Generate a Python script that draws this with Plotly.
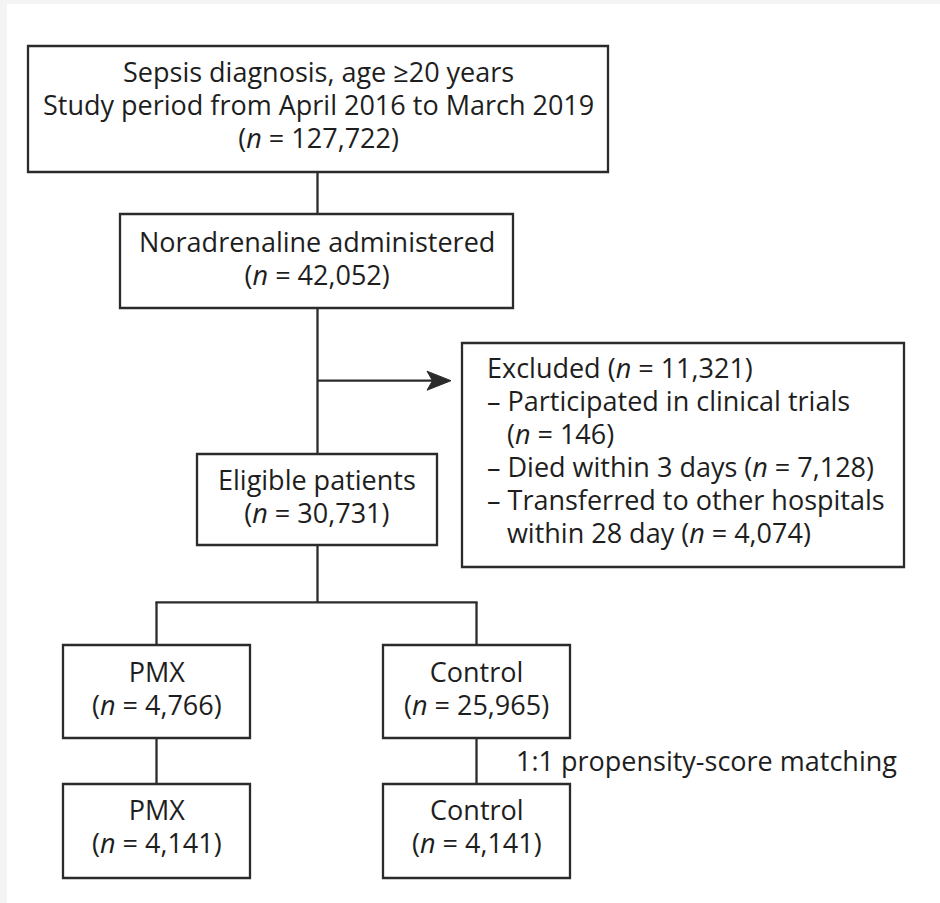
import plotly.graph_objects as go

W, H = 940, 903

# ---- data (text content) ----
box_titles = [
    "Sepsis diagnosis, age \u226520 years<br>Study period from April 2016 to March 2019",
    "Noradrenaline administered",
    "Eligible patients",
    "PMX",
    "Control",
    "PMX",
    "Control",
]
box_counts = ["127,722", "42,052", "30,731", "4,766", "25,965", "4,141", "4,141"]
excluded_total = "11,321"
excluded_reasons = ["Participated in clinical trials", "Died within 3 days", "Transferred to other hospitals"]
excluded_counts = ["146", "7,128", "4,074"]
matching_label = "1:1 propensity-score matching"

# ---- layout (positions in pixels: x0, y0, x1, y1) ----
boxes = [
    (28, 46, 608, 172),
    (120, 214, 513, 308),
    (197, 454, 437, 545),
    (63, 645, 250, 738),
    (383, 645, 570, 738),
    (63, 784, 250, 878),
    (383, 784, 570, 878),
]
text_shift = [-5, -3, -3.5, -3.5, -3.5, -5, -5]
excl_box = (462, 343, 904, 567)
line_color = "#2b2b2b"
text_color = "#1e1e1e"
FONT = "Open Sans"
GLYPH = 27          # glyph size (px)
BASE = 33.0 / 1.3   # base size controlling line spacing (33 px)

def styled(s):
    return f'<span style="font-size:{GLYPH}px">{s}</span>'

def multiline(lines):
    return "<br>".join(styled(l) for l in lines)

fig = go.Figure()
shapes = []
annotations = []

# background (white page over light-gray frame)
shapes.append(dict(type="rect", xref="x", yref="y", x0=7, y0=4, x1=W + 5, y1=H + 5,
                   fillcolor="white", line=dict(width=0), layer="below"))

for (x0, y0, x1, y1) in boxes + [excl_box]:
    shapes.append(dict(type="rect", xref="x", yref="y", x0=x0, y0=y0, x1=x1, y1=y1,
                       line=dict(color=line_color, width=2.3), fillcolor="white"))

def seg(x0, y0, x1, y1):
    shapes.append(dict(type="line", xref="x", yref="y", x0=x0, y0=y0, x1=x1, y1=y1,
                       line=dict(color=line_color, width=2.3)))

cx_main = 317.5
cx_l = (boxes[3][0] + boxes[3][2]) / 2
cx_r = (boxes[4][0] + boxes[4][2]) / 2
seg(cx_main, boxes[0][3], cx_main, boxes[1][1])
seg(cx_main, boxes[1][3], cx_main, boxes[2][1])
arrow_y = 380.7
seg(cx_main, arrow_y, 440, arrow_y)
shapes.append(dict(type="path", xref="x", yref="y",
                   path=f"M 451,{arrow_y} L 427,{arrow_y-9.5} L 432.5,{arrow_y} L 427,{arrow_y+9.5} Z",
                   fillcolor=line_color, line=dict(color=line_color, width=1)))
split_y = 602.3
seg(cx_main, boxes[2][3], cx_main, split_y)
seg(cx_l - 1.1, split_y, cx_r + 1.1, split_y)
seg(cx_l, split_y, cx_l, boxes[3][1])
seg(cx_r, split_y, cx_r, boxes[4][1])
seg(cx_l, boxes[3][3], cx_l, boxes[5][1])
seg(cx_r, boxes[4][3], cx_r, boxes[6][1])

# box texts (centered, one annotation per box)
for (x0, y0, x1, y1), title, cnt, sh in zip(boxes, box_titles, box_counts, text_shift):
    lines = title.split("<br>") + [f"(<i>n</i> = {cnt})"]
    annotations.append(dict(x=(x0 + x1) / 2, y=(y0 + y1) / 2 + sh, xref="x", yref="y",
                            text=multiline(lines), align="center",
                            showarrow=False, xanchor="center", yanchor="middle",
                            font=dict(family=FONT, size=BASE, color=text_color)))

# excluded box text (left aligned; indented continuation lines)
ind = "\u2007\u2009"  # small indent for continuation lines
ex_lines = [f"Excluded (<i>n</i> = {excluded_total})",
            f"\u2013 {excluded_reasons[0]}",
            f"{ind}(<i>n</i> = {excluded_counts[0]})",
            f"\u2013 {excluded_reasons[1]} (<i>n</i> = {excluded_counts[1]})",
            f"\u2013 {excluded_reasons[2]}",
            f"{ind}within 28 day (<i>n</i> = {excluded_counts[2]})"]
annotations.append(dict(x=485, y=368 + 2.5 * 32.8, xref="x", yref="y",
                        text=multiline(ex_lines), align="left",
                        showarrow=False, xanchor="left", yanchor="middle",
                        font=dict(family=FONT, size=BASE, color=text_color)))

annotations.append(dict(x=514, y=760, xref="x", yref="y", text=styled(matching_label),
                        showarrow=False, xanchor="left", yanchor="middle",
                        font=dict(family=FONT, size=BASE, color=text_color)))

fig.update_layout(
    width=W, height=H, margin=dict(l=0, r=0, t=0, b=0),
    paper_bgcolor="#f4f4f4", plot_bgcolor="rgba(0,0,0,0)",
    xaxis=dict(range=[0, W], visible=False, fixedrange=True),
    yaxis=dict(range=[H, 0], visible=False, fixedrange=True),
    shapes=shapes, annotations=annotations, showlegend=False,
)
fig.write_html("out.html", config={"displayModeBar": False},
               post_script="document.body.style.margin='0';document.body.style.overflow='hidden';")
